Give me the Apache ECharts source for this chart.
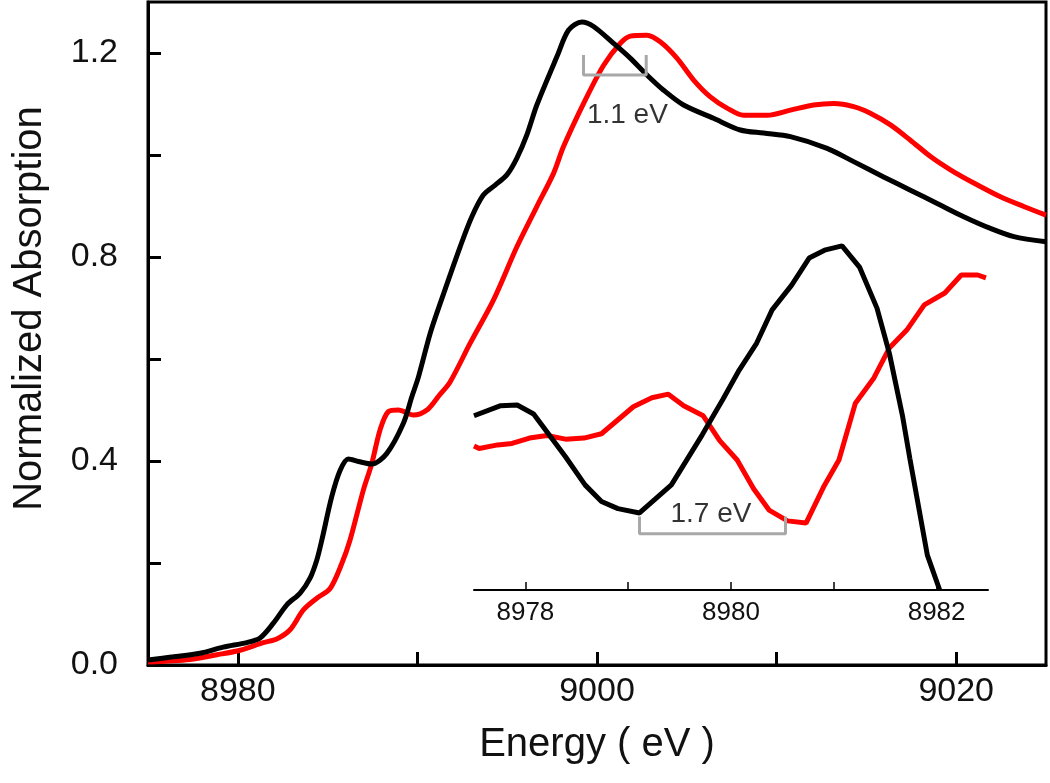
<!DOCTYPE html>
<html>
<head>
<meta charset="utf-8">
<title>Normalized Absorption</title>
<script src="https://cdn.jsdelivr.net/npm/echarts@6/dist/echarts.min.js"></script>
<style>
  html, body { margin: 0; padding: 0; background: #fff; }
  #chart { width: 1050px; height: 783px; }
</style>
</head>
<body>
<div id="chart"></div>
<script>
// main spectra (energy in eV, normalized absorption)
const blackEnergy = [8975.0, 8976.41, 8977.90, 8979.19, 8980.50, 8981.24, 8981.98, 8982.73, 8983.47, 8984.03, 8984.40, 8984.68, 8985.23, 8985.70, 8986.16, 8986.72, 8987.46, 8988.30, 8989.22, 8989.69, 8990.06, 8990.71, 8991.27, 8992.38, 8993.03, 8993.68, 8994.33, 8994.98, 8995.54, 8996.10, 8996.65, 8997.77, 8998.42, 8999.16, 8999.81, 9000.92, 9001.85, 9002.78, 9003.71, 9004.82, 9006.49, 9007.98, 9009.28, 9010.77, 9012.81, 9014.29, 9015.96, 9017.45, 9018.94, 9020.42, 9021.91, 9023.21, 9025.0]
const blackAbs = [0.010, 0.016, 0.023, 0.035, 0.044, 0.053, 0.082, 0.118, 0.141, 0.171, 0.206, 0.245, 0.330, 0.382, 0.404, 0.399, 0.394, 0.415, 0.474, 0.526, 0.565, 0.650, 0.709, 0.820, 0.879, 0.922, 0.941, 0.961, 0.994, 1.040, 1.098, 1.193, 1.245, 1.261, 1.252, 1.219, 1.190, 1.157, 1.127, 1.098, 1.072, 1.049, 1.043, 1.036, 1.013, 0.987, 0.957, 0.931, 0.905, 0.879, 0.856, 0.840, 0.830]

const redEnergy = [8975.0, 8977.34, 8978.83, 8980.13, 8981.42, 8982.17, 8982.91, 8983.65, 8984.40, 8985.14, 8985.79, 8986.25, 8986.99, 8987.46, 8987.92, 8988.39, 8988.94, 8989.78, 8990.53, 8991.20, 8991.82, 8992.94, 8994.24, 8995.54, 8996.65, 8997.58, 8998.13, 8999.35, 9000.37, 9001.30, 9001.85, 9002.78, 9003.52, 9004.45, 9005.38, 9006.31, 9007.24, 9008.16, 9009.47, 9010.77, 9012.06, 9013.18, 9014.29, 9015.22, 9016.34, 9017.45, 9018.57, 9019.68, 9020.98, 9022.46, 9023.76, 9025.0]
const redAbs = [0.006, 0.011, 0.020, 0.029, 0.044, 0.051, 0.069, 0.108, 0.131, 0.150, 0.199, 0.245, 0.343, 0.395, 0.461, 0.497, 0.500, 0.490, 0.500, 0.528, 0.555, 0.631, 0.716, 0.820, 0.899, 0.964, 1.016, 1.108, 1.176, 1.219, 1.233, 1.235, 1.222, 1.190, 1.147, 1.114, 1.092, 1.078, 1.078, 1.088, 1.098, 1.101, 1.095, 1.082, 1.059, 1.029, 0.997, 0.971, 0.945, 0.918, 0.899, 0.882]

// inset (pre-edge region, arbitrary units)
const insetBlackEnergy = [8977.5, 8977.76, 8977.92, 8978.08, 8978.39, 8978.58, 8978.74, 8978.90, 8979.11, 8979.42, 8979.72, 8979.92, 8980.08, 8980.25, 8980.40, 8980.59, 8980.76, 8980.91, 8981.08, 8981.25, 8981.42, 8981.54, 8981.67, 8981.74, 8981.91, 8982.03]
const insetBlackAbs = [0.484, 0.512, 0.514, 0.489, 0.370, 0.292, 0.246, 0.226, 0.214, 0.292, 0.431, 0.529, 0.611, 0.686, 0.778, 0.847, 0.922, 0.944, 0.956, 0.897, 0.783, 0.658, 0.481, 0.365, 0.097, 0.0]

const insetRedEnergy = [8977.5, 8977.55, 8977.73, 8977.87, 8978.04, 8978.21, 8978.39, 8978.57, 8978.74, 8979.05, 8979.23, 8979.39, 8979.54, 8979.73, 8979.89, 8980.06, 8980.22, 8980.37, 8980.55, 8980.73, 8980.90, 8981.05, 8981.21, 8981.39, 8981.54, 8981.71, 8981.88, 8982.08, 8982.24, 8982.40, 8982.48]
const insetRedAbs = [0.400, 0.393, 0.403, 0.407, 0.422, 0.429, 0.419, 0.422, 0.434, 0.509, 0.534, 0.544, 0.512, 0.484, 0.415, 0.361, 0.281, 0.222, 0.192, 0.186, 0.286, 0.361, 0.519, 0.589, 0.672, 0.722, 0.792, 0.825, 0.875, 0.875, 0.867]

// ticks
const mainXTicks = [8980, 8990, 9000, 9010, 9020]
const mainXLabels = [8980, 9000, 9020]
const mainYTicks = [0, 0.2, 0.4, 0.6, 0.8, 1.0, 1.2]
const mainYLabels = [0, 0.4, 0.8, 1.2]
const insetXTicks = [8978, 8979, 8980, 8981, 8982]
const insetXLabels = [8978, 8980, 8982]

// shift brackets and their labels
const shiftMainEnergy = [8999.25, 8999.25, 9002.74, 9002.74]
const shiftMainAbs = [1.196, 1.157, 1.157, 1.196]
const shiftInsetEnergy = [8979.11, 8979.11, 8980.53, 8980.53]
const shiftInsetAbs = [0.204, 0.156, 0.156, 0.204]
const shiftMainNote = [9001.69, 1.078, '1.1 eV']
const shiftInsetNote = [8979.805, 0.211, '1.7 eV']

const FONT = '"Liberation Sans", Arial, sans-serif'
const zip = (xs, ys) => xs.map((x, i) => [x, ys[i]])

const chart = echarts.init(document.getElementById('chart'), null, { renderer: 'canvas' })

const lineSeries = (name, data, color, xi, smooth) => ({
  name: name,
  type: 'line',
  xAxisIndex: xi,
  yAxisIndex: xi,
  data: data,
  showSymbol: false,
  smooth: smooth,
  lineStyle: { color: color, width: 5 },
  itemStyle: { color: color },
  z: 3
})

const noteSeries = (note, xi) => ({
  type: 'scatter',
  xAxisIndex: xi,
  yAxisIndex: xi,
  symbolSize: 1,
  itemStyle: { color: 'rgba(0,0,0,0)' },
  data: [[note[0], note[1]]],
  label: {
    show: true,
    position: 'inside',
    formatter: note[2],
    color: '#000',
    fontSize: 28,
    fontFamily: FONT
  },
  z: 5
})

const bracketSeries = (data, xi) => ({
  type: 'line',
  xAxisIndex: xi,
  yAxisIndex: xi,
  data: data,
  showSymbol: false,
  lineStyle: { color: '#a8a8a8', width: 3 },
  z: 4
})

const option = {
  animation: false,
  backgroundColor: '#fff',
  grid: [
    { left: 148, right: 4, top: 2, bottom: 118, show: true, borderColor: '#000', borderWidth: 3 },
    { left: 474, right: 62, top: 230, bottom: 193 }
  ],
  xAxis: [
    {
      type: 'value',
      gridIndex: 0,
      min: 8975,
      max: 9025,
      name: 'Energy ( eV )',
      nameLocation: 'middle',
      nameGap: 60,
      nameTextStyle: { fontSize: 40, fontFamily: FONT, color: '#111' },
      axisLine: { lineStyle: { color: '#000', width: 3 } },
      axisTick: { inside: true, length: 13, lineStyle: { width: 3, color: '#000' }, customValues: mainXTicks },
      axisLabel: { customValues: mainXLabels, fontSize: 34, fontFamily: FONT, color: '#111', margin: 10, formatter: v => String(v) },
      splitLine: { show: false }
    },
    {
      type: 'value',
      gridIndex: 1,
      min: 8977.5,
      max: 8982.5,
      axisLine: { lineStyle: { color: '#000', width: 2 } },
      axisTick: { inside: true, length: 8, lineStyle: { width: 1.5, color: '#000' }, customValues: insetXTicks },
      axisLabel: { customValues: insetXLabels, fontSize: 26, fontFamily: FONT, color: '#111', margin: 10, formatter: v => String(v) },
      splitLine: { show: false }
    }
  ],
  yAxis: [
    {
      type: 'value',
      gridIndex: 0,
      min: 0,
      max: 1.3,
      name: 'Normalized Absorption',
      nameLocation: 'middle',
      nameGap: 98,
      nameTextStyle: { fontSize: 40, fontFamily: FONT, color: '#111', padding: [0, 0, 0, 50] },
      axisLine: { lineStyle: { color: '#000', width: 3 } },
      axisTick: { inside: true, length: 13, lineStyle: { width: 3, color: '#000' }, customValues: mainYTicks },
      axisLabel: {
        customValues: mainYLabels,
        fontSize: 34,
        fontFamily: FONT,
        color: '#111',
        margin: 30,
        formatter: v => v.toFixed(1)
      },
      splitLine: { show: false }
    },
    { type: 'value', gridIndex: 1, min: 0, max: 1, show: false }
  ],
  series: [
    lineSeries('red', zip(redEnergy, redAbs), '#ff0000', 0, 0.3),
    lineSeries('black', zip(blackEnergy, blackAbs), '#000000', 0, 0.3),
    lineSeries('inset red', zip(insetRedEnergy, insetRedAbs), '#ff0000', 1, false),
    lineSeries('inset black', zip(insetBlackEnergy, insetBlackAbs), '#000000', 1, false),
    bracketSeries(zip(shiftMainEnergy, shiftMainAbs), 0),
    bracketSeries(zip(shiftInsetEnergy, shiftInsetAbs), 1),
    noteSeries(shiftMainNote, 0),
    noteSeries(shiftInsetNote, 1)
  ]
}

chart.setOption(option)
</script>
</body>
</html>
